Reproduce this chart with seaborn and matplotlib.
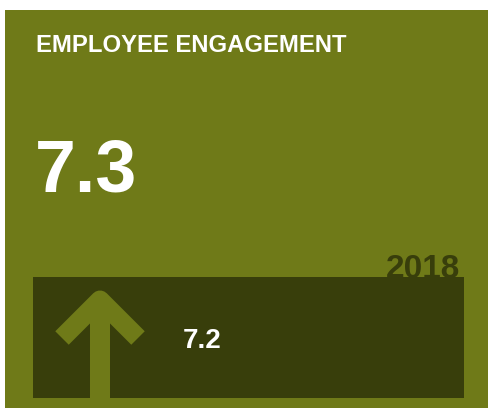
import seaborn as sns
import matplotlib.pyplot as plt
from matplotlib.patches import Rectangle

TITLE = 'EMPLOYEE ENGAGEMENT'
CURRENT_VALUE = [7.3]
PREVIOUS_VALUE = [7.2]
PREVIOUS_YEAR = ['2018']

OLIVE = '#6f7a18'
DARK = '#383e0b'

sns.set_style('white')
plt.rcParams['font.family'] = ['Liberation Sans', 'DejaVu Sans']

W, H = 488, 408
fig = plt.figure(figsize=(W / 100, H / 100), dpi=100)
fig.patch.set_facecolor('white')
ax = fig.add_axes([0, 0, 1, 1])
ax.set_xlim(0, W)
ax.set_ylim(H, 0)
ax.axis('off')

# card background
ax.add_patch(Rectangle((5, 10), W - 5, H - 10, facecolor=OLIVE, edgecolor='none', zorder=0))

ax.text(36, 52, TITLE, color='white', fontsize=17.2, fontweight='bold', va='baseline', ha='left', zorder=2)
ax.text(35, 191, f'{CURRENT_VALUE[0]:.1f}', color='white', fontsize=53, fontweight='bold',
        va='baseline', ha='left', zorder=2)

# previous year panel
ax.text(460, 278, PREVIOUS_YEAR[0], color=DARK, fontsize=24, fontweight='bold', va='baseline', ha='right', zorder=1)
panel = Rectangle((33, 277), 431, 121, facecolor=DARK, edgecolor='none', zorder=2)
ax.add_patch(panel)

# up arrow since current > previous
if CURRENT_VALUE[0] > PREVIOUS_VALUE[0]:
    chev, = ax.plot([62, 100, 138], [338, 300, 338], color=OLIVE, lw=13.7,
                    solid_joinstyle='round', solid_capstyle='butt', zorder=3)
    stem, = ax.plot([100, 100], [306, 400], color=OLIVE, lw=14.4, solid_capstyle='butt', zorder=3)
    stem.set_clip_path(panel)

ax.text(183, 348, f'{PREVIOUS_VALUE[0]:.1f}', color='white', fontsize=20, fontweight='bold',
        va='baseline', ha='left', zorder=4)

fig.savefig('out.png', dpi=100)
